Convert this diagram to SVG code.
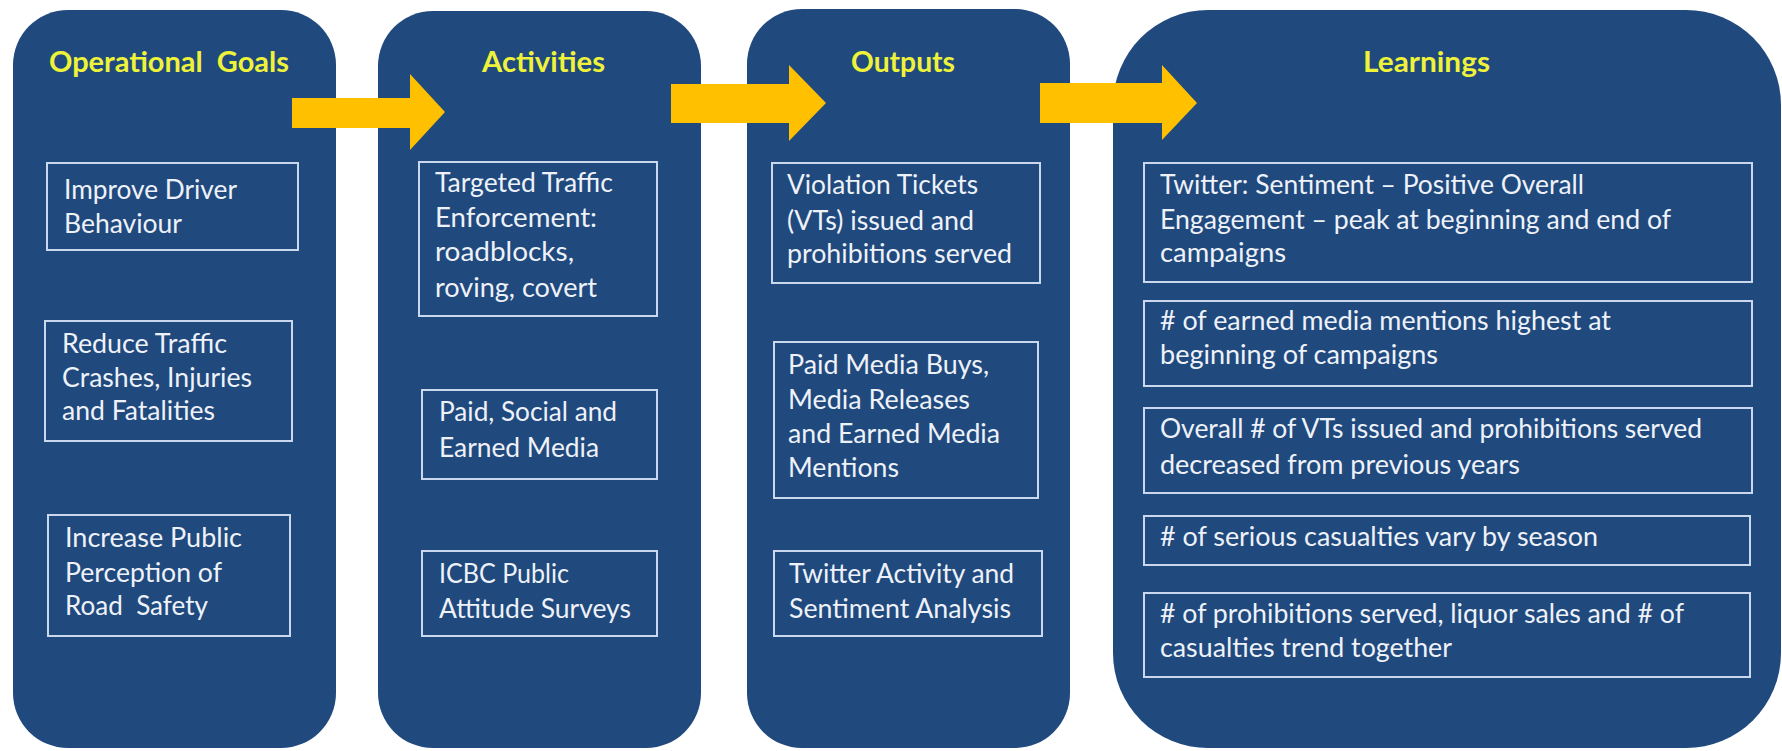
<svg xmlns="http://www.w3.org/2000/svg" width="1782" height="751" viewBox="0 0 1782 751">
<style>
.panel{fill:#20497E;}
.box{fill:none;stroke:#C9D8EC;stroke-width:2;}
.title{font-family:Lato,"Liberation Sans",sans-serif;font-weight:bold;font-size:28px;fill:#EEF33A;}
.t{font-family:Lato,"Liberation Sans",sans-serif;font-size:26px;fill:#EEF2F8;}
.arrow{fill:#FFC000;}
</style>
<rect width="1782" height="751" fill="#FFFFFF"/>
<g id="panel-goals">
<rect class="panel" x="13" y="10" width="323" height="738" rx="55"/>
<text class="title" x="49" y="72" textLength="240" lengthAdjust="spacingAndGlyphs">Operational&#160; Goals</text>
<g id="goal-1"><rect class="box" x="47" y="163" width="251" height="87"/>
<text class="t" x="64" y="199" textLength="173" lengthAdjust="spacingAndGlyphs">Improve Driver</text>
<text class="t" x="64" y="233" textLength="118" lengthAdjust="spacingAndGlyphs">Behaviour</text></g>
<g id="goal-2"><rect class="box" x="45" y="321" width="247" height="120"/>
<text class="t" x="62" y="353" textLength="165" lengthAdjust="spacingAndGlyphs">Reduce Traffic</text>
<text class="t" x="62" y="387" textLength="190" lengthAdjust="spacingAndGlyphs">Crashes, Injuries</text>
<text class="t" x="62" y="420" textLength="153" lengthAdjust="spacingAndGlyphs">and Fatalities</text></g>
<g id="goal-3"><rect class="box" x="48" y="515" width="242" height="121"/>
<text class="t" x="65" y="547" textLength="177" lengthAdjust="spacingAndGlyphs">Increase Public</text>
<text class="t" x="65" y="582" textLength="157" lengthAdjust="spacingAndGlyphs">Perception of</text>
<text class="t" x="65" y="615" textLength="143" lengthAdjust="spacingAndGlyphs">Road&#160; Safety</text></g>
</g>
<g id="panel-activities">
<rect class="panel" x="378" y="11" width="323" height="737" rx="55"/>
<text class="title" x="482" y="72" textLength="123" lengthAdjust="spacingAndGlyphs">Activities</text>
<g id="activity-1"><rect class="box" x="419" y="162" width="238" height="154"/>
<text class="t" x="435" y="192" textLength="178" lengthAdjust="spacingAndGlyphs">Targeted Traffic</text>
<text class="t" x="435" y="227" textLength="162" lengthAdjust="spacingAndGlyphs">Enforcement:</text>
<text class="t" x="435" y="261" textLength="139" lengthAdjust="spacingAndGlyphs">roadblocks,</text>
<text class="t" x="435" y="297" textLength="162" lengthAdjust="spacingAndGlyphs">roving, covert</text></g>
<g id="activity-2"><rect class="box" x="422" y="390" width="235" height="89"/>
<text class="t" x="439" y="421" textLength="178" lengthAdjust="spacingAndGlyphs">Paid, Social and</text>
<text class="t" x="439" y="457" textLength="160" lengthAdjust="spacingAndGlyphs">Earned Media</text></g>
<g id="activity-3"><rect class="box" x="422" y="551" width="235" height="85"/>
<text class="t" x="439" y="583" textLength="130" lengthAdjust="spacingAndGlyphs">ICBC Public</text>
<text class="t" x="439" y="618" textLength="192" lengthAdjust="spacingAndGlyphs">Attitude Surveys</text></g>
</g>
<g id="panel-outputs">
<rect class="panel" x="747" y="9" width="323" height="739" rx="55"/>
<text class="title" x="851" y="72" textLength="104" lengthAdjust="spacingAndGlyphs">Outputs</text>
<g id="output-1"><rect class="box" x="772" y="163" width="268" height="120"/>
<text class="t" x="787" y="194" textLength="191" lengthAdjust="spacingAndGlyphs">Violation Tickets</text>
<text class="t" x="787" y="230" textLength="187" lengthAdjust="spacingAndGlyphs">(VTs) issued and</text>
<text class="t" x="787" y="263" textLength="225" lengthAdjust="spacingAndGlyphs">prohibitions served</text></g>
<g id="output-2"><rect class="box" x="774" y="342" width="264" height="156"/>
<text class="t" x="788" y="374" textLength="201" lengthAdjust="spacingAndGlyphs">Paid Media Buys,</text>
<text class="t" x="788" y="409" textLength="182" lengthAdjust="spacingAndGlyphs">Media Releases</text>
<text class="t" x="788" y="443" textLength="212" lengthAdjust="spacingAndGlyphs">and Earned Media</text>
<text class="t" x="788" y="477" textLength="111" lengthAdjust="spacingAndGlyphs">Mentions</text></g>
<g id="output-3"><rect class="box" x="774" y="551" width="268" height="85"/>
<text class="t" x="789" y="583" textLength="225" lengthAdjust="spacingAndGlyphs">Twitter Activity and</text>
<text class="t" x="789" y="618" textLength="222" lengthAdjust="spacingAndGlyphs">Sentiment Analysis</text></g>
</g>
<g id="panel-learnings">
<rect class="panel" x="1113" y="10" width="668" height="738" rx="95"/>
<text class="title" x="1363" y="72" textLength="127" lengthAdjust="spacingAndGlyphs">Learnings</text>
<g id="learning-1"><rect class="box" x="1144" y="163" width="608" height="119"/>
<text class="t" x="1160" y="194" textLength="424" lengthAdjust="spacingAndGlyphs">Twitter: Sentiment – Positive Overall</text>
<text class="t" x="1160" y="229" textLength="511" lengthAdjust="spacingAndGlyphs">Engagement – peak at beginning and end of</text>
<text class="t" x="1160" y="262" textLength="126" lengthAdjust="spacingAndGlyphs">campaigns</text></g>
<g id="learning-2"><rect class="box" x="1144" y="301" width="608" height="85"/>
<text class="t" x="1160" y="330" textLength="451" lengthAdjust="spacingAndGlyphs"># of earned media mentions highest at</text>
<text class="t" x="1160" y="364" textLength="278" lengthAdjust="spacingAndGlyphs">beginning of campaigns</text></g>
<g id="learning-3"><rect class="box" x="1144" y="408" width="608" height="85"/>
<text class="t" x="1160" y="438" textLength="542" lengthAdjust="spacingAndGlyphs">Overall # of VTs issued and prohibitions served</text>
<text class="t" x="1160" y="474" textLength="360" lengthAdjust="spacingAndGlyphs">decreased from previous years</text></g>
<g id="learning-4"><rect class="box" x="1144" y="516" width="606" height="49"/>
<text class="t" x="1160" y="546" textLength="438" lengthAdjust="spacingAndGlyphs"># of serious casualties vary by season</text></g>
<g id="learning-5"><rect class="box" x="1144" y="593" width="606" height="84"/>
<text class="t" x="1160" y="623" textLength="524" lengthAdjust="spacingAndGlyphs"># of prohibitions served, liquor sales and # of</text>
<text class="t" x="1160" y="657" textLength="292" lengthAdjust="spacingAndGlyphs">casualties trend together</text></g>
</g>
<g id="connectors">
<polygon class="arrow" points="292,98 410,98 410,74 445,112 410,150 410,128 292,128"/>
<polygon class="arrow" points="671,84 789,84 789,65 826,103 789,141 789,123 671,123"/>
<polygon class="arrow" points="1040,83 1162,83 1162,65 1197,103 1162,140 1162,123 1040,123"/>
</g>
</svg>
